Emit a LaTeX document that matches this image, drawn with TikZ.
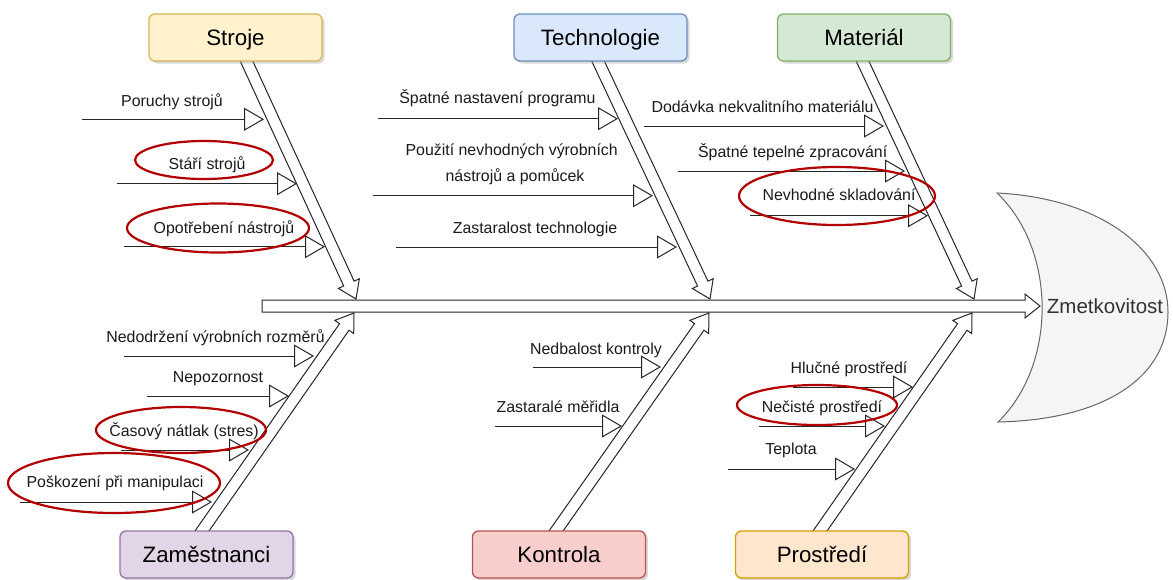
\documentclass[tikz,border=0pt]{standalone}
\usepackage{fontspec}
\setmainfont{Liberation Sans}
\usetikzlibrary{calc,arrows.meta,shadows}

\definecolor{strojefill}{HTML}{FFF2CC}\definecolor{strojedraw}{HTML}{D6B656}
\definecolor{techfill}{HTML}{DAE8FC}\definecolor{techdraw}{HTML}{6C8EBF}
\definecolor{matfill}{HTML}{D5E8D4}\definecolor{matdraw}{HTML}{82B366}
\definecolor{zamfill}{HTML}{E1D5E7}\definecolor{zamdraw}{HTML}{9673A6}
\definecolor{kontfill}{HTML}{F8CECC}\definecolor{kontdraw}{HTML}{B85450}
\definecolor{prosfill}{HTML}{FFE6CC}\definecolor{prosdraw}{HTML}{D79B00}
\definecolor{headfill}{HTML}{F5F5F5}\definecolor{headdraw}{HTML}{666666}
\definecolor{ringred}{HTML}{B20000}
\definecolor{inkgray}{HTML}{1A1A1A}

\tikzset{
  cat/.style={rounded corners=6pt, line width=1.3pt, minimum width=173pt,
    minimum height=47pt, inner sep=0pt, text=black,
    text height=16pt, text depth=0pt,
    font=\fontsize{22.3}{26}\selectfont,
    drop shadow={opacity=0.3, shadow xshift=2.5pt, shadow yshift=-2.5pt}},
  cause/.style={font=\fontsize{15.9}{19}\selectfont, text=inkgray,
    inner sep=0pt, anchor=base},
  causeline/.style={draw=black!85, line width=1pt,
    -{Triangle[fill=white, length=20pt, width=23pt]}},
  bone/.style={draw=black!85, fill=white, line width=1pt, line join=miter},
  ring/.style={draw=ringred, line width=2.2pt},
}

% hollow block arrow: name, start, tip, body half-width, head half-width, head length
\newcommand{\bone}[6]{%
  \coordinate (#1-b) at ($(#3)!#6!(#2)$);
  \draw[bone] ($(#2)!#4!90:(#3)$) -- ($(#1-b)!#4!-90:(#2)$)
    -- ($(#1-b)!#5!-90:(#2)$) -- (#3) -- ($(#1-b)!#5!90:(#2)$)
    -- ($(#1-b)!#4!90:(#2)$) -- ($(#2)!#4!-90:(#3)$) -- cycle;}

% horizontal cause arrow: name, x from, x to, y
\newcommand{\causearrow}[4]{%
  \coordinate (#1-from) at (#2,#4);
  \coordinate (#1-to) at (#3,#4);
  \draw[causeline] (#1-from) -- (#1-to);}

\begin{document}
\begin{tikzpicture}[x=1pt, y=-1pt]
\useasboundingbox (0,0) rectangle (1173,579);

% ---- cause arrows ----
\causearrow{poruchy}{82}{264}{119.3}
\causearrow{stari}{117}{297}{183.7}
\causearrow{opotr}{124}{325}{246.7}
\causearrow{nastav}{378}{618}{118.7}
\causearrow{pouziti}{373}{653}{195.7}
\causearrow{zastar}{396}{677}{247}
\causearrow{dodavka}{644}{884}{126}
\causearrow{tepel}{678}{905}{171}
\causearrow{sklad}{750}{928}{215.7}
\causearrow{rozmer}{124}{314}{356}
\causearrow{nepoz}{147}{289}{396}
\causearrow{natlak}{121}{249}{450}
\causearrow{manip}{20}{212}{502}
\causearrow{nedbal}{533}{661}{367}
\causearrow{meridla}{495}{622}{426}
\causearrow{hlucne}{793}{913}{387}
\causearrow{necist}{759}{885}{426}
\causearrow{teplota}{728}{855}{469}

% ---- spine ----
\coordinate (spine-start) at (262,306);
\coordinate (spine-tip) at (1040,306);
\bone{spine}{spine-start}{spine-tip}{6pt}{12pt}{15pt}

% ---- branches ----
\coordinate (stroje-from) at (241.4,50);  \coordinate (stroje-tip) at (356,299);
\coordinate (tech-from) at (592.8,50);    \coordinate (tech-tip) at (710,299);
\coordinate (mat-from) at (857.3,50);     \coordinate (mat-tip) at (974,299);
\coordinate (zam-from) at (195,541);      \coordinate (zam-tip) at (354,313);
\coordinate (kont-from) at (549,541);     \coordinate (kont-tip) at (709,313);
\coordinate (pros-from) at (813,541);     \coordinate (pros-tip) at (972,313);
\bone{strojebone}{stroje-from}{stroje-tip}{5.75pt}{11.5pt}{17pt}
\bone{techbone}{tech-from}{tech-tip}{5.75pt}{11.5pt}{17pt}
\bone{matbone}{mat-from}{mat-tip}{5.75pt}{11.5pt}{17pt}
\bone{zambone}{zam-from}{zam-tip}{5.75pt}{11.5pt}{17pt}
\bone{kontbone}{kont-from}{kont-tip}{5.75pt}{11.5pt}{17pt}
\bone{prosbone}{pros-from}{pros-tip}{5.75pt}{11.5pt}{17pt}

% ---- category boxes ----
\node[cat, fill=strojefill, draw=strojedraw] (stroje) at (235.5,37.5) {Stroje};
\node[cat, fill=techfill, draw=techdraw] (tech) at (600.5,37.5) {Technologie};
\node[cat, fill=matfill, draw=matdraw] (mat) at (864,37.5) {Materiál};
\node[cat, fill=zamfill, draw=zamdraw] (zam) at (206.5,554.5) {Zaměstnanci};
\node[cat, fill=kontfill, draw=kontdraw] (kont) at (559,554.5) {Kontrola};
\node[cat, fill=prosfill, draw=prosdraw] (pros) at (822,554.5) {Prostředí};

% ---- fish head ----
\draw[fill=headfill, draw=headdraw, line width=1pt]
  (997,193) .. controls (1100,198) and (1168,250) .. (1168,312)
  .. controls (1168,380) and (1100,420) .. (998,422)
  .. controls (1057,365) and (1057,250) .. cycle;
\node[anchor=base, inner sep=0pt, text=black!80,
  font=\fontsize{20.5}{24}\selectfont] (effect) at (1105,313.3) {Zmetkovitost};

% ---- cause labels ----
\node[cause] (t-poruchy) at (172,106) {Poruchy strojů};
\node[cause] (t-stari) at (207,169) {Stáří strojů};
\node[cause] (t-opotr) at (224,233) {Opotřebení nástrojů};
\node[cause] (t-nastav) at (497.5,103) {Špatné nastavení programu};
\node[cause] (t-pouziti1) at (511.7,155) {Použití nevhodných výrobních};
\node[cause] (t-pouziti2) at (515,181.7) {nástrojů a pomůcek};
\node[cause] (t-zastar) at (535,233) {Zastaralost technologie};
\node[cause] (t-dodavka) at (762.5,112) {Dodávka nekvalitního materiálu};
\node[cause] (t-tepel) at (792.7,157) {Špatné tepelné zpracování};
\node[cause] (t-sklad) at (839,200.7) {Nevhodné skladování};
\node[cause] (t-rozmer) at (215.5,342) {Nedodržení výrobních rozměrů};
\node[cause] (t-nepoz) at (218,382) {Nepozornost};
\node[cause] (t-natlak) at (184,436) {Časový nátlak (stres)};
\node[cause] (t-manip) at (115,487) {Poškození při manipulaci};
\node[cause] (t-nedbal) at (596,354) {Nedbalost kontroly};
\node[cause] (t-meridla) at (558,412) {Zastaralé měřidla};
\node[cause] (t-hlucne) at (849,373) {Hlučné prostředí};
\node[cause] (t-necist) at (822,412) {Nečisté prostředí};
\node[cause] (t-teplota) at (791,454) {Teplota};

% ---- highlighted causes ----
\draw[ring] (204,160) ellipse [x radius=69, y radius=19];
\draw[ring] (218,228) ellipse [x radius=91, y radius=24.5];
\draw[ring] (837,196) ellipse [x radius=98, y radius=29];
\draw[ring] (181,430) ellipse [x radius=85, y radius=23];
\draw[ring] (114,483) ellipse [x radius=106, y radius=30];
\draw[ring] (817,405) ellipse [x radius=80, y radius=20];
\end{tikzpicture}
\end{document}
